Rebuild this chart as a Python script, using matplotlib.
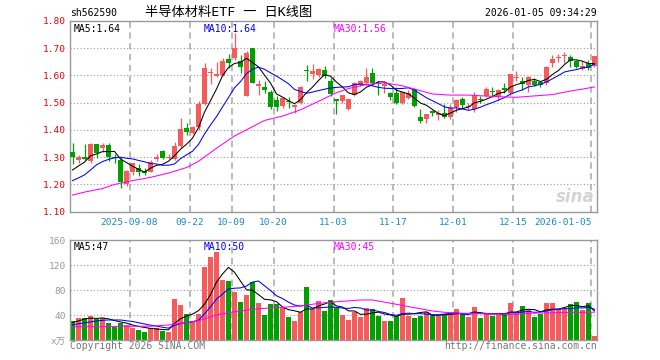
import numpy as np
import pandas as pd
import matplotlib
matplotlib.use('Agg')
import matplotlib.pyplot as plt

plt.rcParams['font.family'] = ['DejaVu Sans Mono', 'Noto Sans CJK SC']

# 日K数据 (88 个交易日, 2025-08-25 ~ 2026-01-05)
open_ = [1.320, 1.290, 1.300, 1.285, 1.349, 1.333, 1.345, 1.300, 1.290, 1.200,
         1.245, 1.262, 1.250, 1.247, 1.293, 1.323, 1.297, 1.295, 1.340, 1.408,
         1.390, 1.410, 1.495, 1.608, 1.597, 1.602, 1.660, 1.665, 1.654, 1.526,
         1.700, 1.563, 1.558, 1.541, 1.510, 1.488, 1.506, 1.483, 1.498, 1.619,
         1.606, 1.602, 1.620, 1.581, 1.513, 1.507, 1.476, 1.528, 1.565, 1.571,
         1.608, 1.572, 1.563, 1.535, 1.535, 1.498, 1.518, 1.550, 1.447, 1.440,
         1.470, 1.455, 1.464, 1.447, 1.486, 1.513, 1.485, 1.476, 1.512, 1.525,
         1.542, 1.522, 1.555, 1.535, 1.590, 1.580, 1.565, 1.578, 1.575, 1.571,
         1.645, 1.663, 1.672, 1.669, 1.654, 1.623, 1.645, 1.635]
close = [1.302, 1.300, 1.293, 1.350, 1.315, 1.345, 1.300, 1.297, 1.210, 1.250,
         1.278, 1.245, 1.243, 1.284, 1.300, 1.298, 1.302, 1.342, 1.404, 1.392,
         1.410, 1.495, 1.626, 1.614, 1.607, 1.653, 1.647, 1.700, 1.632, 1.684,
         1.574, 1.568, 1.548, 1.486, 1.486, 1.516, 1.502, 1.492, 1.559, 1.616,
         1.618, 1.623, 1.598, 1.532, 1.508, 1.528, 1.513, 1.571, 1.578, 1.596,
         1.571, 1.569, 1.567, 1.522, 1.500, 1.538, 1.535, 1.488, 1.433, 1.459,
         1.461, 1.461, 1.449, 1.481, 1.510, 1.492, 1.488, 1.528, 1.509, 1.549,
         1.540, 1.548, 1.547, 1.605, 1.593, 1.568, 1.596, 1.566, 1.566, 1.632,
         1.659, 1.669, 1.675, 1.654, 1.630, 1.635, 1.626, 1.672]
high = [1.351, 1.308, 1.349, 1.352, 1.350, 1.352, 1.353, 1.310, 1.300, 1.252,
        1.280, 1.275, 1.260, 1.290, 1.312, 1.328, 1.310, 1.355, 1.445, 1.427,
        1.415, 1.505, 1.645, 1.628, 1.650, 1.664, 1.679, 1.755, 1.675, 1.690,
        1.702, 1.585, 1.578, 1.547, 1.525, 1.521, 1.522, 1.497, 1.562, 1.638,
        1.642, 1.627, 1.636, 1.590, 1.515, 1.530, 1.515, 1.575, 1.585, 1.627,
        1.627, 1.580, 1.580, 1.540, 1.557, 1.540, 1.545, 1.553, 1.476, 1.460,
        1.474, 1.473, 1.495, 1.497, 1.512, 1.520, 1.500, 1.541, 1.523, 1.556,
        1.559, 1.550, 1.571, 1.607, 1.617, 1.596, 1.598, 1.590, 1.578, 1.635,
        1.675, 1.678, 1.685, 1.675, 1.657, 1.655, 1.656, 1.672]
low = [1.275, 1.278, 1.288, 1.280, 1.297, 1.320, 1.285, 1.280, 1.186, 1.195,
       1.235, 1.232, 1.235, 1.245, 1.285, 1.292, 1.292, 1.290, 1.335, 1.380,
       1.385, 1.400, 1.490, 1.570, 1.595, 1.598, 1.626, 1.658, 1.608, 1.524,
       1.571, 1.527, 1.535, 1.477, 1.471, 1.480, 1.480, 1.463, 1.495, 1.581,
       1.586, 1.596, 1.590, 1.525, 1.460, 1.500, 1.472, 1.524, 1.562, 1.566,
       1.565, 1.528, 1.535, 1.510, 1.497, 1.495, 1.515, 1.485, 1.425, 1.425,
       1.452, 1.437, 1.443, 1.440, 1.465, 1.480, 1.472, 1.465, 1.498, 1.520,
       1.522, 1.510, 1.535, 1.530, 1.578, 1.545, 1.540, 1.560, 1.558, 1.565,
       1.631, 1.648, 1.645, 1.630, 1.628, 1.620, 1.620, 1.630]
# 成交量 (万手)
volume = [31, 36, 35, 39, 34, 35, 28, 22, 28, 24.5,
          20, 16.5, 14, 20, 20, 15.5, 14, 66, 56.5, 42,
          31, 42, 117, 133, 142, 96.5, 95, 78, 62, 72.5,
          93, 60, 40.5, 57.5, 58, 51, 38, 31.5, 46, 85,
          49.5, 63, 47, 64.5, 51, 40.5, 32.5, 46, 38, 52,
          50, 39.5, 31, 31, 39.5, 68, 39.5, 36, 39.5, 45,
          40.5, 39, 41.5, 41.5, 50, 43, 38, 54, 36, 43,
          39, 43, 40.5, 60, 44, 55, 48.5, 38, 42, 60,
          60, 50, 50, 58, 61, 49, 60, 7]

# 窗口开头的均线值(需要更早的数据)
ma5_head = [1.253, 1.268, 1.282, 1.305]
ma10_head = [1.214, 1.224, 1.235, 1.253, 1.272, 1.284, 1.292, 1.298, 1.300]
vma5_head = [28.5, 31, 34, 35.5]
vma10_head = [24.5, 26.5, 28, 29.5, 31, 32, 32.5, 32.5, 32.5]

# MA30 从图上读取 (交易日序号, 值)
ma30_day = [0, 2, 5, 7, 10, 13, 16, 19, 21, 24, 27, 30, 32, 35, 38, 41, 44,
            46, 49, 52, 55, 57, 60, 63, 66, 71, 74, 77, 80, 83, 85, 87]
ma30_val = [1.161, 1.172, 1.185, 1.200, 1.214, 1.226, 1.242, 1.262, 1.285,
            1.333, 1.378, 1.412, 1.435, 1.451, 1.474, 1.505, 1.537, 1.552,
            1.567, 1.573, 1.562, 1.550, 1.532, 1.528, 1.528, 1.522, 1.520,
            1.525, 1.530, 1.543, 1.550, 1.558]
vma30_day = [0, 5, 8, 13, 16, 18, 21, 24, 27, 30, 32, 35, 38, 41, 43, 48, 50,
             54, 57, 60, 62, 65, 70, 74, 76, 82, 87]
vma30_val = [21.8, 21.8, 22.5, 22.5, 24.5, 27.2, 31.4, 40.5, 45.8, 49.6, 51.2,
             52.8, 55, 59, 61, 64.5, 64.5, 57.6, 52.2, 46.9, 44.8, 43.2, 42.1,
             41.6, 43.2, 44.5, 45]

tick_idx = [10, 20, 27, 34, 44, 54, 64, 74, 87]
tick_lbl = ['2025-09-08', '09-22', '10-09', '10-20', '11-03', '11-17',
            '12-01', '12-15', '2026-01-05']

RED = '#f65a5a'
GREEN = '#00a000'
GRID = '#b4b4b4'

o = np.array(open_); c = np.array(close)
n = len(c)
x = np.arange(n)
up = c >= o
col = np.where(up, RED, GREEN)

ma5 = pd.Series(c).rolling(5).mean().to_numpy()
ma5[:4] = ma5_head
ma10 = pd.Series(c).rolling(10).mean().to_numpy()
ma10[:9] = ma10_head
vma5 = pd.Series(volume).rolling(5).mean().to_numpy()
vma5[:4] = vma5_head
vma10 = pd.Series(volume).rolling(10).mean().to_numpy()
vma10[:9] = vma10_head

W, H = 660, 360
fig = plt.figure(figsize=(6.6, 3.6), dpi=100)
ax = fig.add_axes([70 / W, 1 - 211.7 / H, 527 / W, 190.7 / H])
axv = fig.add_axes([70 / W, 1 - 340.3 / H, 527 / W, 100 / H])

grid_x = [i - 0.5 for i in tick_idx]
for a in (ax, axv):
    a.set_xlim(-0.417, n - 0.583)
    for s in a.spines.values():
        s.set_color('#999999')
        s.set_linewidth(1)
    for gx in grid_x:
        a.axvline(gx, color=GRID, lw=1.3, ls=(0, (3.5, 2.5)), zorder=0)
    a.tick_params(length=0)

# K线
ax.vlines(x, low, high, colors=col, lw=0.9, zorder=2)
ax.bar(x, np.maximum(np.abs(c - o), 0.003), bottom=np.minimum(o, c),
       width=0.8, color=col, lw=0, zorder=3)
ax.plot(x, ma5, color='black', lw=0.75, zorder=4)
ax.plot(x, ma10, color='#0000ff', lw=0.75, zorder=4)
ax.plot(ma30_day, ma30_val, color='#ff00ff', lw=0.75, zorder=4)

ax.set_ylim(1.10, 1.80)
yt = np.round(np.arange(1.10, 1.81, 0.10), 2)
ax.set_yticks(yt)
ax.set_yticklabels([f'{v:.2f}' for v in yt], color='#ee0000', fontsize=6.8)
for v in yt[1:-1]:
    ax.axhline(v, color='#999999', lw=0.8, ls=(0, (1, 2)), zorder=0)
ax.set_xticks(grid_x)
ax.set_xticklabels(tick_lbl, color='#1a88d0', fontsize=6.8)
ax.tick_params(axis='x', pad=4.5)
ax.tick_params(axis='y', pad=3)
ax.get_xticklabels()[-1].set_ha('right')

ax.text(0.006, 0.985, 'MA5:1.64', transform=ax.transAxes, fontsize=7,
        color='black', va='top')
ax.text(0.254, 0.985, 'MA10:1.64', transform=ax.transAxes, fontsize=7,
        color='#0000ff', va='top')
ax.text(0.501, 0.985, 'MA30:1.56', transform=ax.transAxes, fontsize=7,
        color='#ff00ff', va='top')
ax.text(0.995, 0.03, 'sina', transform=ax.transAxes, fontsize=12,
        color='#d4d4d4', ha='right', va='bottom', style='italic',
        weight='bold', family='DejaVu Sans', zorder=1)

# 成交量
axv.bar(x, volume, width=0.83, color=col, lw=0, zorder=2)
axv.plot(x, vma5, color='black', lw=0.75, zorder=3)
axv.plot(x, vma10, color='#0000ff', lw=0.75, zorder=3)
axv.plot(vma30_day, vma30_val, color='#ff00ff', lw=0.75, zorder=3)
axv.set_ylim(0, 160)
vt = [0, 40, 80, 120, 160]
axv.set_yticks(vt)
axv.set_yticklabels(['x万', '40', '80', '120', '160'], color='#999999',
                    fontsize=6.8)
axv.tick_params(axis='y', pad=3)
for v in vt[1:-1]:
    axv.axhline(v, color='#999999', lw=0.8, ls=(0, (1, 2)), zorder=0)
axv.set_xticks(grid_x)
axv.set_xticklabels([])
axv.text(0.006, 0.985, 'MA5:47', transform=axv.transAxes, fontsize=7,
         color='black', va='top')
axv.text(0.254, 0.985, 'MA10:50', transform=axv.transAxes, fontsize=7,
         color='#0000ff', va='top')
axv.text(0.501, 0.985, 'MA30:45', transform=axv.transAxes, fontsize=7,
         color='#ff00ff', va='top')

# 标题栏
fig.text(70 / W, 1 - 13 / H, 'sh562590', fontsize=7, va='center')
fig.text(229 / W, 1 - 12.5 / H, '半导体材料ETF 一 日K线图', fontsize=9.5,
         ha='center', va='center')
fig.text(597 / W, 1 - 13 / H, '2026-01-05 09:34:29', fontsize=7,
         ha='right', va='center')
fig.text(70 / W, 1 - 346 / H, 'Copyright 2026 SINA.COM', fontsize=7,
         color='#777777', va='center')
fig.text(597 / W, 1 - 346 / H, 'http://finance.sina.com.cn', fontsize=7,
         color='#777777', ha='right', va='center')

fig.savefig('out.png', dpi=100)
